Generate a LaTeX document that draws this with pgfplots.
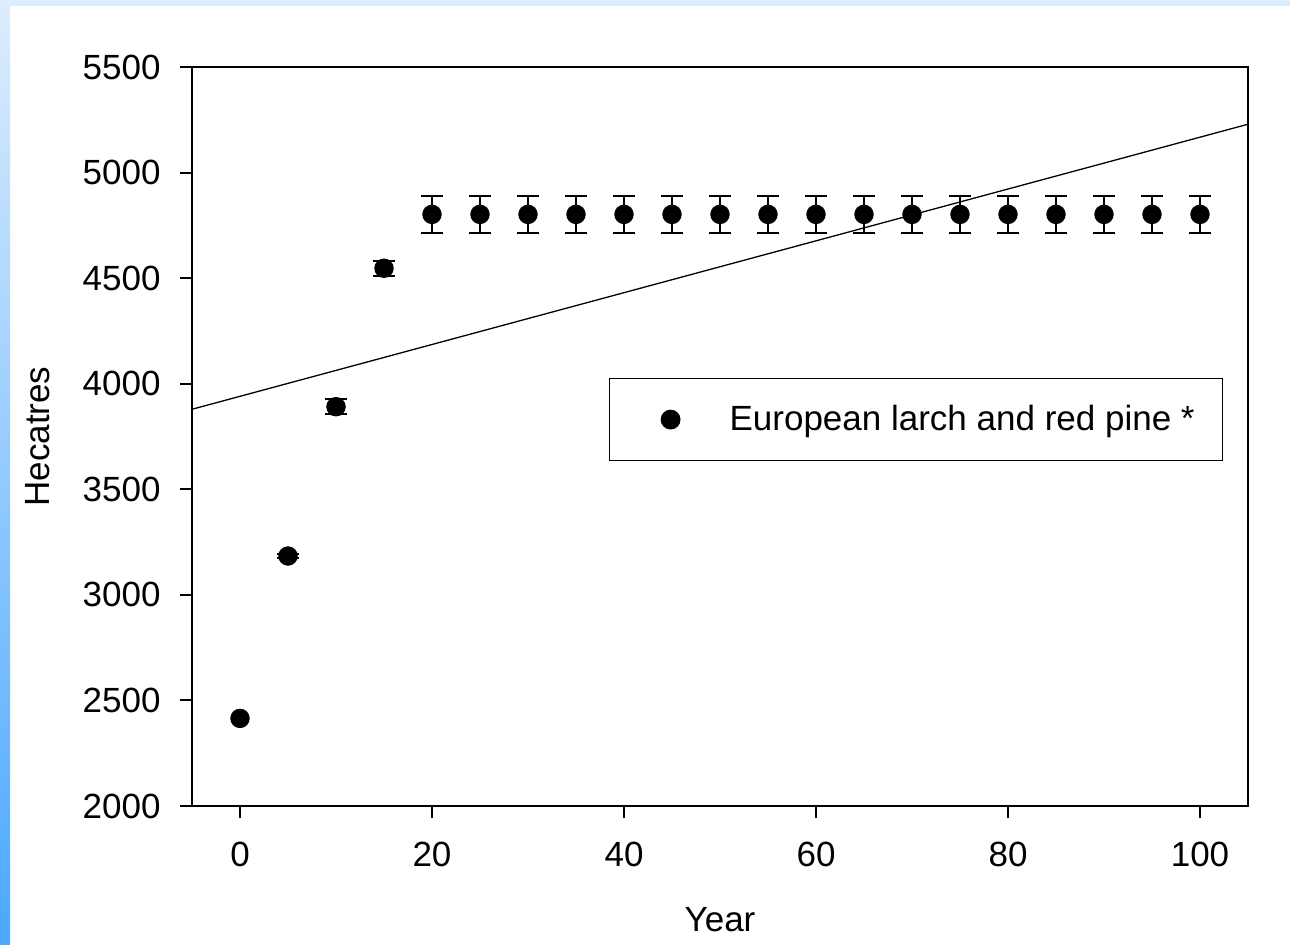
\documentclass[border=0pt]{standalone}
\usepackage{fontspec}
\setmainfont{Liberation Sans}
\usepackage{pgfplots}
\usepackage{pgfplotstable}
\pgfplotsset{compat=1.18}
\definecolor{bandblue}{HTML}{DDEDFD}
\definecolor{stripbot}{HTML}{4AA8FF}
\pgfplotstableread{
x y err
5 3184 10
10 3891 36
15 4547 36
20 4802 86
25 4802 86
30 4802 86
35 4802 86
40 4802 86
45 4802 86
50 4802 86
55 4802 86
60 4802 86
65 4802 86
70 4802 86
75 4802 86
80 4802 86
85 4802 86
90 4802 86
95 4802 86
100 4802 86
}\datatable
\pgfplotstableread{
x y
0 2415
}\firstpoint
\begin{document}
\begin{tikzpicture}[font=\fontsize{17.5bp}{21bp}\selectfont]
\useasboundingbox (0,0) rectangle (645bp,-472.5bp);
\fill[white] (0,0) rectangle (645bp,-472.5bp);
\fill[bandblue] (0,0) rectangle (645bp,-3bp);
\shade[top color=bandblue, bottom color=stripbot] (0,0) rectangle (5bp,-472.5bp);
\begin{axis}[
  at={(96bp,-403bp)}, anchor=south west,
  scale only axis, width=528bp, height=369.5bp,
  xmin=-5, xmax=105, ymin=2000, ymax=5500,
  xtick={0,20,...,100}, ytick={2000,2500,...,5500},
  xtick pos=bottom, ytick pos=left,
  tick align=outside, major tick length=6bp,
  axis line style={line width=1bp},
  every tick/.style={line width=1bp, black},
  scaled y ticks=false,
  /pgf/number format/assume math mode=true,
  yticklabel style={/pgf/number format/fixed, /pgf/number format/1000 sep={}, inner sep=0pt, anchor=east, xshift=-9.5bp},
  xticklabel style={inner sep=0pt, anchor=north, yshift=-12bp},
  xlabel={Year}, ylabel={Hecatres},
  xlabel style={at={(rel axis cs:0.5,-0.1543)}, anchor=center, inner sep=0pt},
  ylabel style={at={(rel axis cs:-0.1458,0.5)}, anchor=center, inner sep=0pt},
  legend style={at={(rel axis cs:0.3949,0.5792)}, anchor=north west, draw=black, line width=0.6bp, fill=white, inner sep=0pt, row sep=0pt, column sep=0pt, nodes={inner sep=0pt}},
  legend cell align=left,
  legend image code/.code={\path[draw=none, fill=none] (0bp,-20.5bp) rectangle (60bp,20.5bp); \fill[black] (30.5bp,0bp) circle (4.65bp);},
]
\addplot[black, line width=0.65bp, forget plot] coordinates {(-5,3879) (105,5229)};
\addplot[only marks, mark=*, mark size=4.65bp, black,
  error bars/.cd, y dir=both, y explicit,
  error bar style={line width=1bp, black},
  error mark options={rotate=90, mark size=5.5bp, line width=1bp, black}]
  table[x=x, y=y, y error=err] {\datatable};
\addlegendentry{European larch and red pine *\kern14bp}
\addplot[only marks, mark=*, mark size=4.65bp, black, forget plot] table[x=x, y=y] {\firstpoint};
\end{axis}
\end{tikzpicture}
\end{document}
